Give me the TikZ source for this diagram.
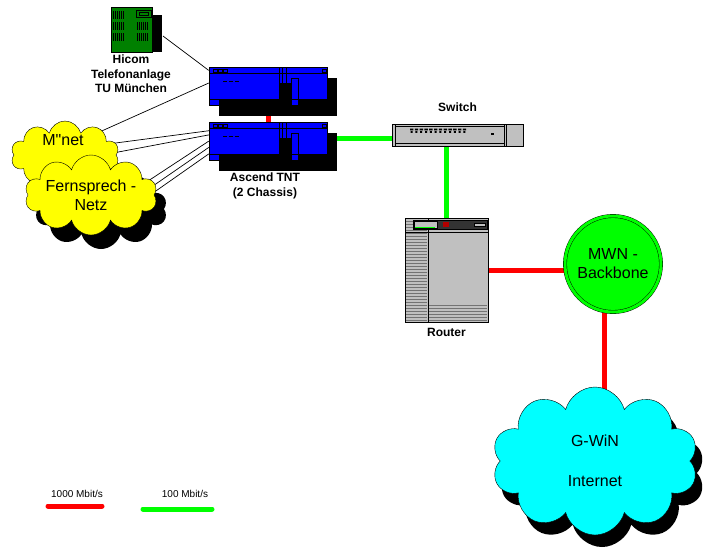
\documentclass[tikz,border=0pt]{standalone}
\usepackage{fontspec}
\setmainfont{Liberation Sans}
\usetikzlibrary{shapes.symbols,shadows,backgrounds}

\definecolor{devgray}{RGB}{192,192,192}
\definecolor{boardgreen}{RGB}{0,128,0}
\definecolor{netyellow}{RGB}{255,255,0}
\definecolor{netcyan}{RGB}{0,255,255}
\definecolor{netgreen}{RGB}{0,255,0}
\definecolor{netred}{RGB}{255,0,0}
\definecolor{netblue}{RGB}{0,0,255}

\tikzset{
  chassis/.style={draw, fill=netblue, inner sep=0pt, minimum width=118pt, minimum height=32pt},
  board/.style={draw, fill=boardgreen, inner sep=0pt, minimum width=41pt, minimum height=45pt},
  netcloud/.style={cloud, draw, cloud puffs=10, cloud ignores aspect, inner sep=0pt, bigtext},
  cloudshadow/.style 2 args={drop shadow={fill=black, opacity=1, shadow xshift=#1, shadow yshift=#2}},
  devlabel/.style={font=\bfseries\fontsize{12}{14.5}\selectfont, align=center},
  bigtext/.style={font=\fontsize{16}{19}\selectfont, align=center},
  legtext/.style={font=\fontsize{10}{12}\selectfont},
  phone/.style={black, line width=0.7pt},
  gigabit/.style={netred, line width=5pt},
  fastlink/.style={netgreen, line width=5pt}
}

\begin{document}
\begin{tikzpicture}[x=1pt, y=-1pt]
\useasboundingbox (0,0) rectangle (705,550);

\fill (121,15) rectangle (162,52);
\draw (131.5,29.5) node (hicom) [board] {};
\foreach \x/\y in {113/11,113/22,113/33,137/22,137/33}
  \foreach \i in {0,2,...,10} \fill (\x+\i,\y) rectangle ++(1.2,8);
\draw (136,10) rectangle (151,17);
\draw (139,12) rectangle (148,15);
\draw (131,74) node (hicomlabel) [devlabel] {Hicom\\Telefonanlage\\TU München};

\foreach \y/\n in {67/tntA,122/tntB} {
  \begin{scope}[shift={(209,\y)}]
    \fill (10,11) rectangle (128,49);
    \draw (59,16) node (\n) [chassis] {};
    \draw (0,6) -- (118,6);
    \foreach \x in {4,9,14} \draw (\x,2) rectangle ++(4,3);
    \draw (113,2) rectangle ++(4,3);
    \foreach \x in {14,20,26} \fill (\x,13.5) rectangle ++(4,1.5);
    \fill (70,16) rectangle (82,32);
    \draw (70,0) -- (70,16) (73,0) -- (73,16) (77,0) -- (77,16);
    \draw (82,11) -- (82,32) (89,11) -- (89,32) (82,11) -- (89,11);
    \draw[fill=netblue] (0,32) rectangle (10,38) (82,32) rectangle (89,38);
  \end{scope}
}
\draw (265,186) node (tntlabel) [devlabel] {Ascend TNT\\(2 Chassis)};

\draw (457.5,135) node (switch) [draw, fill=devgray, inner sep=0pt, minimum width=131pt, minimum height=22pt,
  label={[devlabel, label distance=9pt]above:Switch}] {};
\draw (395,124) -- (395,146) (504,124) -- (504,146) (506,124) -- (506,146);
\draw (395,126.5) -- (504,126.5) (395,143.5) -- (504,143.5);
\foreach \i in {0,...,11}
  \fill (410+\i*4.8,128.5) rectangle ++(3.4,1.8) (410.6+\i*4.8,131) rectangle ++(2,1.8);
\fill (491,133) rectangle ++(3,2);

\draw (446.5,270) node (router) [draw, fill=devgray, inner sep=0pt, minimum width=83pt, minimum height=104pt,
  label={[devlabel, label distance=3pt]below:Router}] {};
\foreach \yy in {221,224,...,320} \draw[black!55] (406,\yy) -- (427,\yy);
\foreach \yy in {305,308,...,320} \draw[black!55] (429,\yy) -- (487,\yy);
\draw (428,218) -- (428,322);
\draw[fill=black!80] (413,220) rectangle (487,229);
\draw[fill=devgray] (414,221) rectangle (437,228);
\fill[netred!70!black] (443,222) rectangle (449,227);
\draw[fill=devgray] (474,223) rectangle (485,226);
\draw[netgreen] (415,227.5) -- (435,227.5);
\draw (405,232) -- (488,232);

\draw (613,264) node (mwn) [circle, draw, fill=netgreen, double=netgreen, double distance=3pt,
  minimum size=96pt, inner sep=0pt, bigtext] {MWN -\\Backbone};

\draw (65,155) node (mnet) [netcloud, fill=netyellow, minimum width=108pt, minimum height=68pt] {};
\draw (63,140) node (mnettext) [bigtext] {M\textquotedbl net};
\draw (91,195) node (fern) [netcloud, fill=netyellow, minimum width=113pt, minimum height=80pt,
  cloudshadow={10pt}{-14pt}] {Fernsprech -\\Netz};
\draw (595,461) node (gwin) [netcloud, fill=netcyan, minimum width=206pt, minimum height=148pt,
  cloudshadow={7pt}{-12pt}] {G-WiN\\[21pt]Internet};

\coordinate (hicomport) at (163,36);
\coordinate (m1) at (95,134);
\coordinate (m2) at (108,144);
\coordinate (m3) at (113,153);
\coordinate (f1) at (145,183);
\coordinate (f2) at (150,188);
\coordinate (f3) at (153,193);

\begin{scope}[on background layer]
\draw[phone] (hicomport) -- (tntA.168);
\draw[phone] (m1) -- (tntA.west);
\draw[phone] (m2) -- (tntB.173);
\draw[phone] (m3) -- (tntB.177);
\draw[phone] (f1) -- (tntB.183);
\draw[phone] (f2) -- (tntB.189);
\draw[phone] (f3) -- (tntB.195);
\draw[gigabit] (tntA.south) -- (tntB.north);
\draw[fastlink] (tntB.east) -- (tntB.east -| switch.west);
\draw[fastlink] (router.north |- switch.south) -- (router.north);
\draw[gigabit] (router.east) -- (router.east -| mwn.center);
\draw[gigabit] (mwn.260) -- (mwn.260 |- gwin.center);
\end{scope}

\draw (77,494) node (leg1) [legtext] {1000 Mbit/s};
\draw (185,494) node (leg2) [legtext] {100 Mbit/s};
\coordinate (leg1a) at (48,506);
\coordinate (leg1b) at (102,506);
\coordinate (leg2a) at (143,509);
\coordinate (leg2b) at (212,509);
\draw[gigabit, line cap=round] (leg1a) -- (leg1b);
\draw[fastlink, line cap=round] (leg2a) -- (leg2b);
\end{tikzpicture}
\end{document}
